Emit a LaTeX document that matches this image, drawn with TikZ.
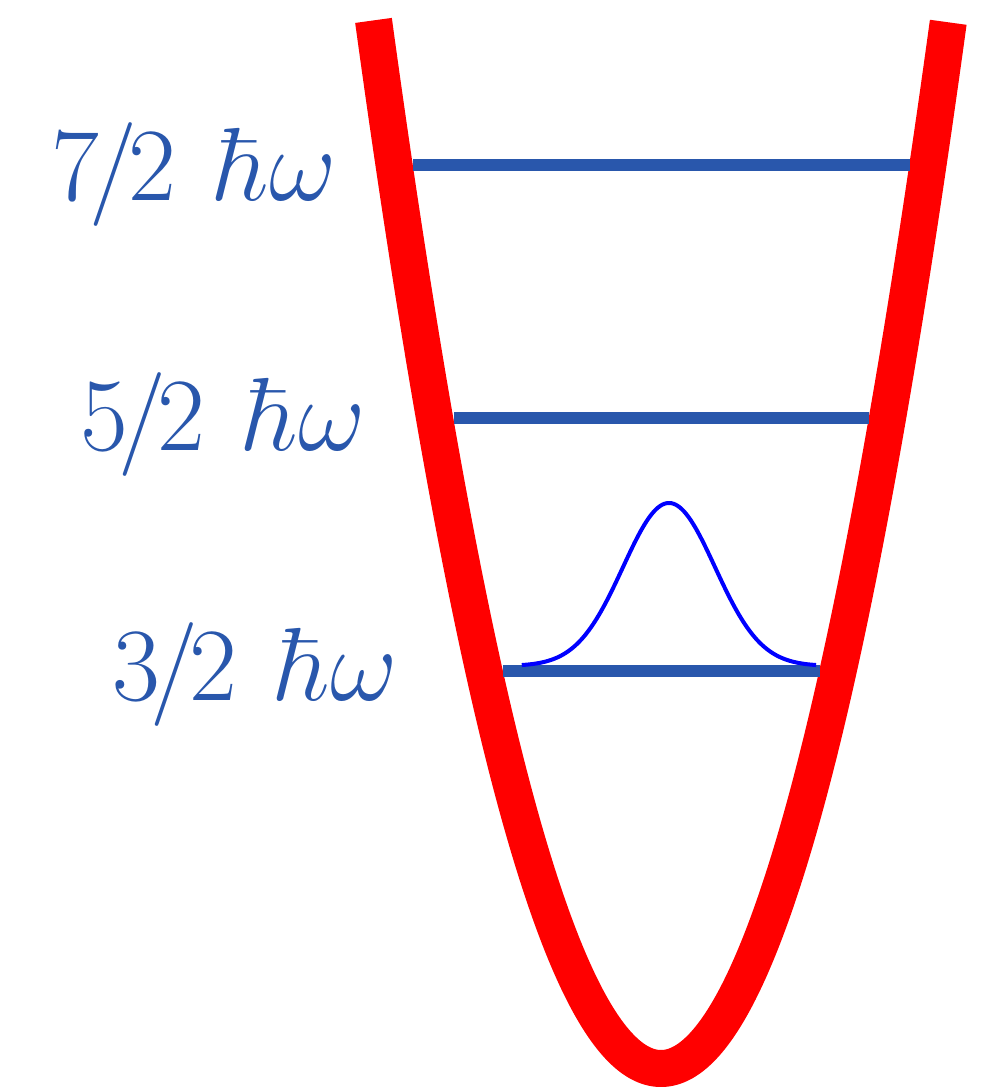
\RequirePackage{fix-cm}
\documentclass[tikz,border=0pt]{standalone}
\definecolor{levelblue}{RGB}{41,87,172}
\definecolor{wellred}{RGB}{255,0,0}
\definecolor{wavefn}{RGB}{0,0,255}
\newcommand{\lvlabel}[1]{#1\kern-0.09em/\kern-0.09em2\hspace{0.38em}$\hbar\omega$}
\begin{document}
\begin{tikzpicture}[x=1pt,y=-1pt,
  well/.style={draw=wellred,line width=37pt,line cap=butt,line join=round},
  level/.style={draw=levelblue,line width=12.5pt,line cap=butt},
  psi/.style={draw=wavefn,line width=4pt},
  elabel/.style={anchor=base west,inner sep=0pt,text=levelblue,font=\fontsize{104}{115}\selectfont}]
\useasboundingbox (0,0) rectangle (984,1087);
% potential well
\draw[well] plot[domain=-2.875:2.875,samples=240] ({661+100*\x},{1068.5-126.8*\x*\x});
% energy levels
\coordinate (a7) at (413,165); \coordinate (b7) at (910,165);
\coordinate (a5) at (454,418); \coordinate (b5) at (869,418);
\coordinate (a3) at (503,671); \coordinate (b3) at (820,671);
\draw[level] (a7) -- (b7);
\draw[level] (a5) -- (b5);
\draw[level] (a3) -- (b3);
% wavefunction
\draw[psi] plot[domain=-3.2:3.2,samples=150] ({669+46*\x},{666-163*exp(-\x*\x/2)});
% labels
\node[elabel] (l7) at (51,200) {\lvlabel{7}};
\node[elabel] (l5) at (80,450) {\lvlabel{5}};
\node[elabel] (l3) at (112,700) {\lvlabel{3}};
\end{tikzpicture}
\end{document}
